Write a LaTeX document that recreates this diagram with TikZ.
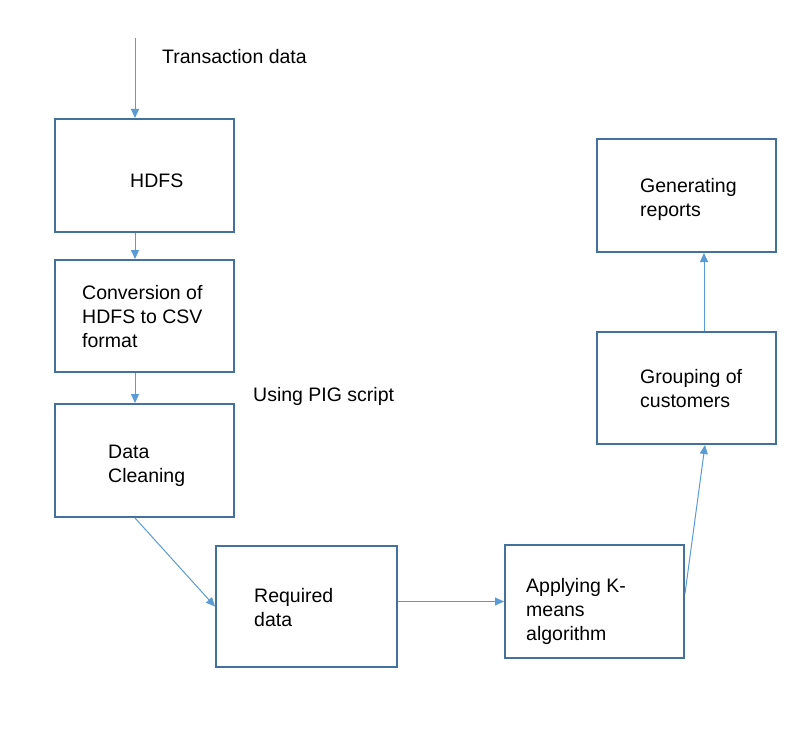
\documentclass[tikz,border=0pt]{standalone}
\usepackage{fontspec}
\setmainfont{Liberation Sans}
\usetikzlibrary{arrows.meta}
\definecolor{boxblue}{HTML}{41719C}
\definecolor{arrblue}{HTML}{5B9BD5}
\newcommand\txtlines[1]{\vtop{\baselineskip=24pt\lineskiplimit=-100pt #1}}
\begin{document}
\begin{tikzpicture}[x=1pt,y=-1pt,
  box/.style={draw=boxblue, line width=2pt, rectangle, inner sep=0pt, fill=white},
  lbl/.style={anchor=base west, inner sep=0pt, font=\fontsize{19.5}{24}\selectfont},
  arr/.style={draw=arrblue, line width=1pt, -{Triangle[length=9pt,width=8pt]}}]
\useasboundingbox (0,0) rectangle (810,735);
% boxes
\node[box, minimum width=179pt, minimum height=113pt] (hdfs) at (144.5,175.5) {};
\node[box, minimum width=179pt, minimum height=112pt] (conv) at (144.5,316) {};
\node[box, minimum width=179pt, minimum height=113pt] (clean) at (144.5,460.5) {};
\node[box, minimum width=181pt, minimum height=121pt] (req) at (306.5,606.5) {};
\node[box, minimum width=179pt, minimum height=113pt] (kmeans) at (594.5,601.5) {};
\node[box, minimum width=179pt, minimum height=112pt] (group) at (686.5,388) {};
\node[box, minimum width=179pt, minimum height=113pt] (gen) at (686.5,195.5) {};
% texts
\node[lbl] (ttrans) at (162,64) {Transaction data};
\node[lbl] (thdfs) at (130,188) {HDFS};
\node[lbl] (tconv) at (82,299) {\txtlines{\hbox{Conversion of}\hbox{HDFS to CSV}\hbox{format}}};
\node[lbl] (tpig) at (253,401) {Using PIG script};
\node[lbl] (tclean) at (108,458) {\txtlines{\hbox{Data}\hbox{Cleaning}}};
\node[lbl] (treq) at (254,602) {\txtlines{\hbox{Required}\hbox{data}}};
\node[lbl] (tkm) at (526,592) {\txtlines{\hbox{Applying K-}\hbox{means}\hbox{algorithm}}};
\node[lbl] (tgroup) at (640,383) {\txtlines{\hbox{Grouping of}\hbox{customers}}};
\node[lbl] (tgen) at (640,193) {\txtlines{\hbox{Generating}\hbox{reports}}};
% connectors
\coordinate (start) at (135,38);
\draw[arr] (start) -- (start |- hdfs.north);
\draw[arr] (hdfs.south -| start) -- (conv.north -| start);
\draw[arr] (conv.south -| start) -- (clean.north -| start);
\draw[arr] (clean.south -| start) -- (req.west);
\draw[arr] (req.east |- kmeans.west) -- (kmeans.west);
\draw[arr] ([yshift=8pt]kmeans.east) -- ([xshift=18.5pt]group.south);
\draw[arr] ([xshift=17.5pt]group.north) -- ([xshift=17.5pt]gen.south);
\end{tikzpicture}
\end{document}
